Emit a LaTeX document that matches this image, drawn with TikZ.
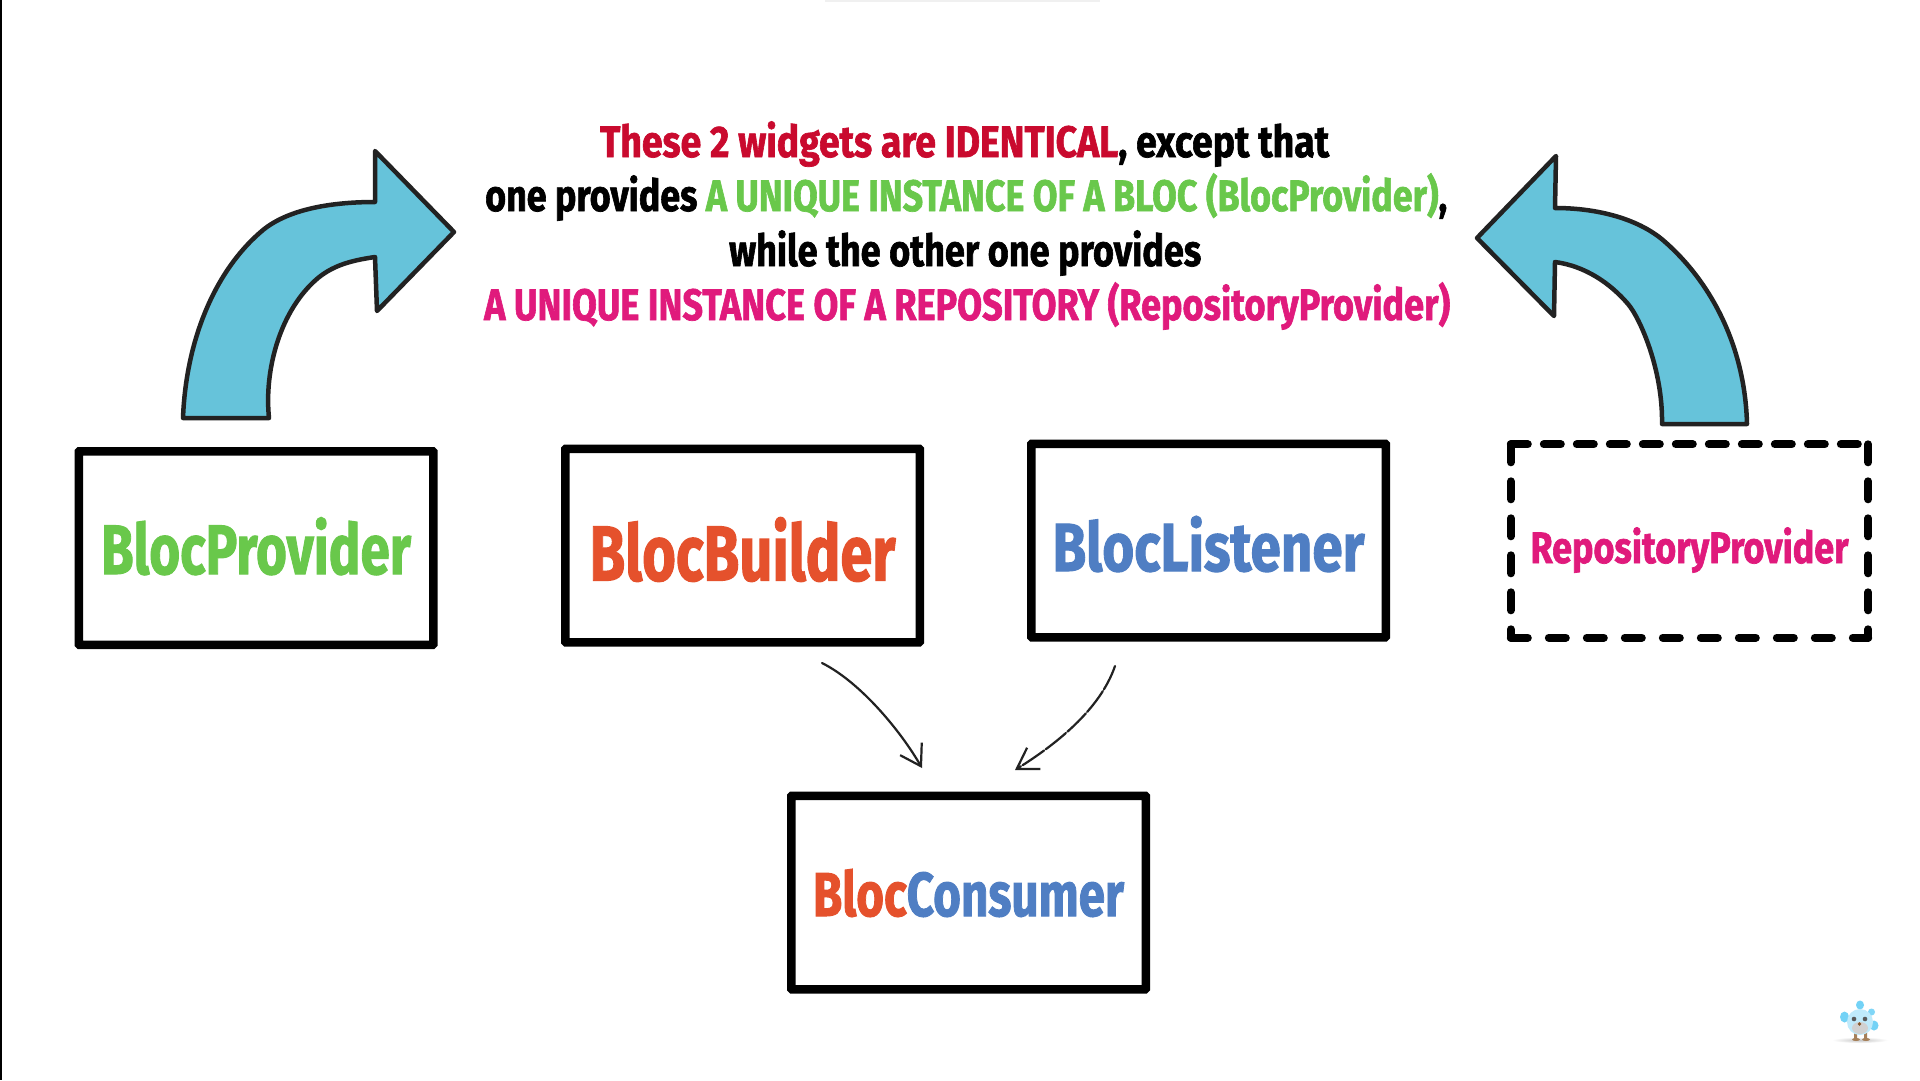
\documentclass[tikz,border=0pt]{standalone}
\usepackage{graphicx}
\usepackage{fontspec}
\usetikzlibrary{arrows.meta,calc}
\setmainfont{Fira Sans}[BoldFeatures={FakeBold=1.6}]
\definecolor{cred}{HTML}{C90A2E}
\definecolor{cgreen}{HTML}{69C84B}
\definecolor{cpink}{HTML}{E01A7C}
\definecolor{corange}{HTML}{E5512C}
\definecolor{cblue}{HTML}{4F7EC3}
\definecolor{ccyan}{HTML}{66C3DA}
\definecolor{cink}{HTML}{222222}
% width, font size, drop of the baseline below the box centre, text
\newcommand{\boxtext}[4]{\raisebox{-#3pt}[0pt][0pt]{\resizebox{#1pt}{\height}{\fontsize{#2}{#2}\selectfont\bfseries #4}}}
\newcommand{\titleline}[2]{\resizebox{#1pt}{\height}{\fontsize{44}{44}\selectfont\bfseries #2}}
\tikzset{
  widget/.style={draw=black,line width=8.5pt,rounded corners=0.6pt,fill=white,minimum width=354.5pt,minimum height=193.5pt,inner sep=0pt},
  ghost/.style={draw=none,minimum width=357pt,minimum height=193pt,inner sep=0pt},
  dashside/.style={line width=8pt,line cap=round,draw=black},
  titletext/.style={anchor=base west,inner sep=0pt},
  blockarrow/.style={fill=ccyan,draw=cink,line width=4.5pt,line join=round},
  sketch/.style={draw=cink,line width=2.2pt,line cap=round,-{Straight Barb[length=20pt,width=25pt,line width=2.2pt]}},
}
\begin{document}
\begin{tikzpicture}[x=1pt,y=-1pt]
\useasboundingbox (0,0) rectangle (1920,1080);
\fill[white] (0,0) rectangle (1920,1080);
\fill[black] (0,0) rectangle (1.5,1080);
\fill[black!6] (825,0) rectangle (1100,1.5);

% title
\node[titletext] (lineone) at (600,157) {\titleline{729}{\textcolor{cred}{These 2 widgets are IDENTICAL}\textcolor{black}{, except that}}};
\node[titletext] (linetwo) at (485,211) {\titleline{962}{\textcolor{black}{one provides }\textcolor{cgreen}{A UNIQUE INSTANCE OF A BLOC (BlocProvider)}\textcolor{black}{,}}};
\node[titletext] (linethree) at (729,266) {\titleline{472}{\textcolor{black}{while the other one provides}}};
\node[titletext] (linefour) at (484,320) {\titleline{966}{\textcolor{cpink}{A UNIQUE INSTANCE OF A REPOSITORY (RepositoryProvider)}}};

% boxes
\node[widget] (provider) at (256,548) {\boxtext{310}{70}{26}{\textcolor{cgreen}{BlocProvider}}};
\node[widget] (builder) at (742.5,545.5) {\boxtext{306}{78}{35}{\textcolor{corange}{BlocBuilder}}};
\node[widget] (listener) at (1208.5,540.5) {\boxtext{312}{68}{30.5}{\textcolor{cblue}{BlocListener}}};
\node[ghost] (repository) at (1689.5,541) {\boxtext{318}{44}{22}{\textcolor{cpink}{RepositoryProvider}}};
\node[widget] (consumer) at (968.5,892.5) {\boxtext{311}{62}{23.5}{\textcolor{corange}{Bloc}\textcolor{cblue}{Consumer}}};

% dashed outline of the repository box
\draw[dashside,dash pattern=on 17pt off 16pt] (repository.north west) -- (repository.north east);
\draw[dashside,dash pattern=on 18pt off 19pt] (repository.north west) -- (repository.south west);
\draw[dashside,dash pattern=on 18pt off 19pt] (repository.north east) -- (repository.south east);
\draw[dashside,dash pattern=on 17pt off 21pt] (repository.south west) -- (repository.south east);

% block arrows
\draw[blockarrow] (183,418) -- (269,418)
  .. controls (264,370) and (280,310) .. (318,278)
  .. controls (335,264) and (355,260) .. (375,257)
  -- (377,311) -- (454,232) -- (375,151) -- (375,202)
  .. controls (335,202) and (290,208) .. (263,230)
  .. controls (215,270) and (186,340) .. (183,418) -- cycle;
\draw[blockarrow] (1747,424) -- (1662,424)
  .. controls (1663,370) and (1640,318) .. (1628,304)
  .. controls (1610,283) and (1585,266) .. (1555,262)
  -- (1554,316) -- (1477,238) -- (1556,156) -- (1555,208)
  .. controls (1600,208) and (1640,220) .. (1664,241)
  .. controls (1710,281) and (1745,345) .. (1747,424) -- cycle;

% thin arrows
\coordinate (buildertail) at (822,663);
\coordinate (builderhead) at (922,768);
\coordinate (listenertail) at (1115,666);
\coordinate (listenerhead) at (1015,770);
\draw[sketch] (buildertail) .. controls (860,682) and (900,730) .. (builderhead);
\draw[sketch,dash pattern=on 26pt off 2pt] (listenertail) .. controls (1100,710) and (1055,745) .. (listenerhead);

% mascot
\shade[inner color=black!22,outer color=white] (1860,1040) ellipse (28 and 3);
\fill[brown!60!gray] (1854,1030) rectangle (1857,1039) (1864,1030) rectangle (1867,1039);
\fill[brown!60!gray] (1856,1039.5) ellipse (4 and 1.5) (1866,1039.5) ellipse (4 and 1.5);
\fill[cyan!55!white] (1860,1005) ellipse (4 and 4.5);
\fill[cyan!55!white] (1844.5,1017) ellipse (4.5 and 5.5);
\fill[cyan!50!white] (1871.5,1012) circle (3.5);
\fill[cyan!55!white] (1874,1025.5) ellipse (4.5 and 5);
\fill[cyan!25!white] (1860,1022) ellipse (13 and 13);
\fill[black!18] (1860,1028) ellipse (8 and 6);
\fill[gray!70!black] (1854,1019) circle (2.3) (1865,1019) circle (2.3);
\fill[brown!70!black] (1859.5,1024) circle (1.8);
\end{tikzpicture}
\end{document}
